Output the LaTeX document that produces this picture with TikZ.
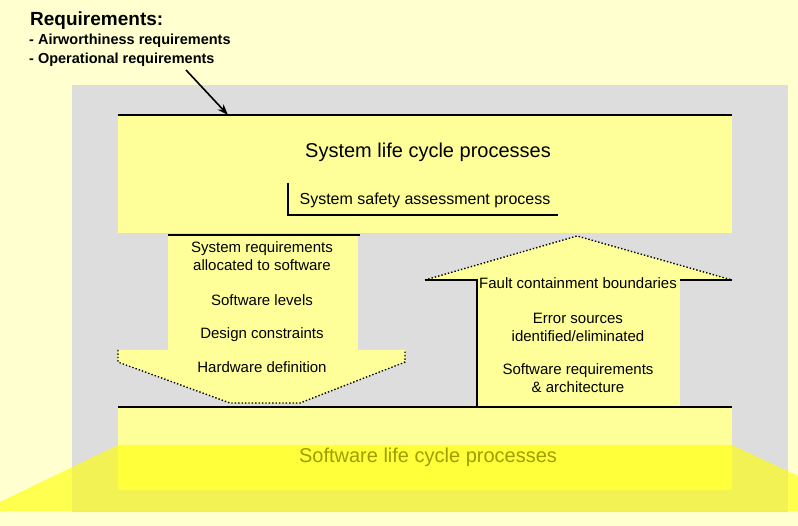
\documentclass[tikz,border=0pt]{standalone}
\usepackage{fontspec}
\setmainfont{Liberation Sans}
\usetikzlibrary{arrows.meta}
\definecolor{bgyellow}{RGB}{255,255,208}
\definecolor{panelgray}{RGB}{221,221,221}
\definecolor{boxyellow}{RGB}{255,255,153}
\definecolor{hiyellow}{RGB}{255,255,0}
\begin{document}
\begin{tikzpicture}[x=1pt,y=-1pt,
  txt/.style={inner sep=0pt,align=center,font=\fontsize{15}{17}\selectfont},
  bigtxt/.style={inner sep=0pt,font=\fontsize{20}{22}\selectfont},
  reqtxt/.style={inner sep=0pt,anchor=west,font=\fontsize{14.5}{17}\selectfont\bfseries},
  rule/.style={line width=2pt,black},
  thinrule/.style={line width=1.2pt,black},
  head/.style={fill=boxyellow,draw=black,dotted,line width=1.4pt}]
\useasboundingbox (0,0) rectangle (798,526);
% backdrop and grey panel
\fill[bgyellow] (0,0) rectangle (798,526);
\fill[panelgray] (72,85) rectangle (788,512);

% system life cycle block
\fill[boxyellow] (118,115) rectangle (732,233);
\coordinate (systopL) at (118,115);
\coordinate (systopR) at (732,115);
\coordinate (sysarrow) at (228,115);
\draw[rule] (systopL) -- (systopR);
\node[bigtxt] (systitle) at (428,152) {System life cycle processes};
\node[txt,font=\fontsize{16}{18}\selectfont] (safety) at (425,200) {System safety assessment process};
\coordinate (safA) at (288,183);
\coordinate (safB) at (288,215);
\coordinate (safC) at (558,215);
\draw[thinrule] (safA) -- (safB) -- (safC);

% downward arrow (system to software)
\fill[boxyellow] (168,235) rectangle (358,352);
\draw[head] (118,350) -- (118,362) -- (230,403) -- (300,403) -- (405,362) -- (405,350);
\fill[boxyellow] (120,352) -- (120,362) -- (231,401) -- (299,401) -- (403,362) -- (403,352) -- cycle;
\coordinate (dnL) at (168,235);
\coordinate (dnR) at (360,235);
\draw[rule] (dnL) -- (dnR);
\node[txt] (req1) at (262,256) {System requirements\\[1pt]allocated to software};
\node[txt] (req2) at (262,300) {Software levels};
\node[txt] (req3) at (262,335) {Design constraints};
\node[txt] (req4) at (262,367) {Hardware definition};

% upward arrow (software to system)
\fill[boxyellow] (477,280) rectangle (680,407);
\fill[boxyellow] (425,280) -- (577,236) -- (732,280) -- cycle;
\coordinate (upL) at (425,280);
\coordinate (upApex) at (577,236);
\coordinate (upR) at (732,280);
\coordinate (upBodyL) at (477,280);
\coordinate (upBodyB) at (477,407);
\coordinate (upBodyR) at (680,280);
\draw[black,dotted,line width=1.4pt] (upL) -- (upApex) -- (upR);
\draw[rule] (upL) -- (upBodyL) -- (upBodyB);
\draw[rule] (upBodyR) -- (upR);
\node[txt] (fb1) at (578,283) {Fault containment boundaries};
\node[txt] (fb2) at (578,327) {Error sources\\[1pt]identified/eliminated};
\node[txt] (fb3) at (578,378) {Software requirements\\[1pt]\& architecture};

% software life cycle block
\fill[boxyellow] (118,407) rectangle (732,490);
\coordinate (swtopL) at (118,407);
\coordinate (swtopR) at (732,407);
\draw[rule] (swtopL) -- (swtopR);
\node[bigtxt] (swtitle) at (428,457) {Software life cycle processes};
\fill[hiyellow,opacity=0.62] (0,502) -- (118,445) -- (732,445) -- (798,476) -- (798,511) -- (0,511) -- cycle;

% incoming requirements
\node[inner sep=0pt,anchor=west,font=\fontsize{19}{22}\selectfont\bfseries] (reqhead) at (30,21) {Requirements:};
\node[reqtxt] (reqair) at (29,41) {- Airworthiness requirements};
\node[reqtxt] (reqops) at (29,60) {- Operational requirements};
\coordinate (reqtail) at (186,70);
\draw[line width=1.6pt,-{Stealth[length=11pt,width=8pt]}] (reqtail) -- (sysarrow);
\end{tikzpicture}
\end{document}
